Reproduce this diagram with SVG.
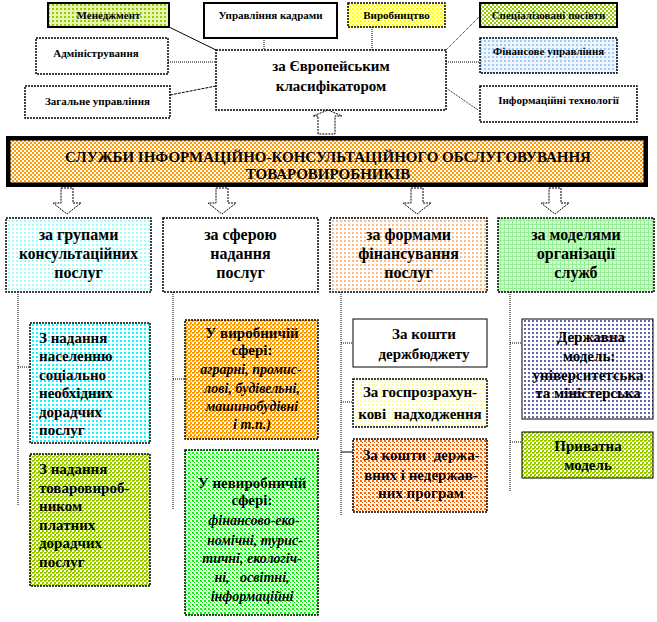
<svg xmlns="http://www.w3.org/2000/svg" width="657" height="622" viewBox="0 0 657 622">
<defs>
<pattern id="pMen" width="4" height="4" patternUnits="userSpaceOnUse"><rect width="4" height="4" fill="#e6f5b0"/><rect width="2" height="2" fill="#99cc00"/></pattern>
<pattern id="pYel" width="4" height="4" patternUnits="userSpaceOnUse"><rect width="4" height="4" fill="#ffffcc"/><rect width="2" height="2" fill="#ffff00"/><rect x="2" y="2" width="1" height="1" fill="#ffff00"/></pattern>
<pattern id="pSpec" width="4" height="4" patternUnits="userSpaceOnUse"><rect width="4" height="4" fill="#fff"/><rect width="2" height="2" fill="#99cc00"/><rect x="2" y="2" width="2" height="2" fill="#99cc00"/></pattern>
<pattern id="pBlue" width="4" height="4" patternUnits="userSpaceOnUse"><rect width="4" height="4" fill="#f0f6ff"/><rect width="2" height="2" fill="#99ccff"/></pattern>
<pattern id="pBanner" width="4" height="4" patternUnits="userSpaceOnUse"><rect width="4" height="4" fill="#fff"/><rect width="2" height="2" fill="#ff9900"/><rect x="2" y="2" width="2" height="2" fill="#ff9900"/></pattern>
<pattern id="pCyanL" width="4" height="4" patternUnits="userSpaceOnUse"><rect width="4" height="4" fill="#fff"/><rect width="2" height="2" fill="#99ffff"/></pattern>
<pattern id="pPeach" width="4" height="4" patternUnits="userSpaceOnUse"><rect width="4" height="4" fill="#fff"/><rect width="2" height="2" fill="#ffbb80"/></pattern>
<pattern id="pMint" width="4" height="4" patternUnits="userSpaceOnUse"><rect width="4" height="4" fill="#ccffcc"/><rect width="1" height="4" fill="#99ee99"/><rect width="4" height="1" fill="#99ee99"/></pattern>
<pattern id="pCyan" width="4" height="4" patternUnits="userSpaceOnUse"><rect width="4" height="4" fill="#fff"/><rect width="2" height="2" fill="#00ffff"/></pattern>
<pattern id="pYG" width="4" height="4" patternUnits="userSpaceOnUse"><rect width="4" height="4" fill="#fff"/><rect width="2" height="2" fill="#99cc00"/><rect x="2" y="2" width="2" height="2" fill="#99cc00"/><rect x="2" y="0" width="1" height="1" fill="#99cc00"/></pattern>
<pattern id="pOrange" width="4" height="4" patternUnits="userSpaceOnUse"><rect width="4" height="4" fill="#fff"/><rect width="2" height="2" fill="#ff9900"/><rect x="2" y="2" width="2" height="2" fill="#ff9900"/><rect x="2" y="0" width="1" height="1" fill="#ff9900"/></pattern>
<pattern id="pGreen" width="4" height="4" patternUnits="userSpaceOnUse"><rect width="4" height="4" fill="#fff"/><rect width="2" height="2" fill="#00ff00"/><rect x="2" y="2" width="1" height="1" fill="#00ff00"/></pattern>
<pattern id="pLYel" width="4" height="4" patternUnits="userSpaceOnUse"><rect width="4" height="4" fill="#fff"/><rect width="2" height="2" fill="#ffff99"/></pattern>
<pattern id="pRed" width="4" height="4" patternUnits="userSpaceOnUse"><rect width="4" height="4" fill="#fff"/><rect width="2" height="2" fill="#ff6600"/><rect x="2" y="2" width="1" height="1" fill="#ff6600"/></pattern>
<pattern id="pNavy" width="4" height="4" patternUnits="userSpaceOnUse"><rect width="4" height="4" fill="#fff"/><rect width="2" height="2" fill="#6666aa"/></pattern>
</defs>
<style>
text{font-family:"Liberation Serif","DejaVu Serif","Times New Roman",serif;font-weight:bold;fill:#000}
.s{font-size:11px}
.c{font-size:15px}
.b{font-size:15px}
.h{font-size:16px}
.t{font-size:15px}
.i{font-style:italic;font-size:14px}
.dot{stroke:#000;stroke-width:1.5;stroke-dasharray:2 1}
.sol{stroke:#000;stroke-width:2}
.thin{stroke:#000;stroke-width:1}
.ln{stroke:#000;stroke-width:1;fill:none}
.dl{stroke:#000;stroke-width:1;stroke-dasharray:1 1;fill:none}
.arr{fill:#fff;stroke:#000;stroke-width:1;stroke-dasharray:2 1}
</style>
<rect width="657" height="622" fill="#fff"/>

<g id="connectors">
<line class="ln" x1="169" y1="27" x2="216" y2="50"/>
<line class="dl" x1="264" y1="38" x2="264" y2="50" stroke-width="2"/>
<line class="dl" x1="372" y1="27" x2="372" y2="50" stroke-width="2"/>
<line class="dl" x1="168" y1="62" x2="216" y2="62"/>
<line class="ln" x1="170" y1="95" x2="216" y2="86" stroke-dasharray="3 1"/>
<line class="dl" x1="446" y1="50" x2="480" y2="16"/>
<line class="dl" x1="446" y1="62" x2="480" y2="62"/>
<line class="dl" x1="446" y1="88" x2="478" y2="110"/>
<polygon class="arr" points="318,134 318,116 313,116 328,110 342,116 335,116 335,134"/>
<polygon class="arr" points="61,188 73,188 73,203 81,203 67,214 53,203 61,203"/>
<polygon class="arr" points="216,188 228,188 228,203 236,203 222,214 208,203 216,203"/>
<polygon class="arr" points="411,188 423,188 423,203 431,203 417,214 403,203 411,203"/>
<polygon class="arr" points="549,188 561,188 561,203 569,203 555,214 541,203 549,203"/>
<line class="dl" x1="18" y1="292" x2="18" y2="505"/>
<line class="dl" x1="18" y1="367" x2="30" y2="367"/>
<line class="dl" x1="173" y1="292" x2="173" y2="510"/>
<line class="dl" x1="173" y1="379" x2="185" y2="379"/>
<line class="dl" x1="341" y1="292" x2="341" y2="515"/>
<line class="dl" x1="341" y1="343" x2="353" y2="343"/>
<line class="dl" x1="341" y1="402" x2="353" y2="402"/>
<line class="ln" x1="341" y1="452" x2="353" y2="452"/>
<line class="dl" x1="510" y1="292" x2="510" y2="492"/>
<line class="dl" x1="510" y1="343" x2="522" y2="343"/>
<line class="dl" x1="510" y1="442" x2="522" y2="442" stroke-width="2"/>
</g>

<g id="n-menedzhment"><rect class="sol" x="48" y="3" width="121" height="24" fill="url(#pMen)"/><text class="s" x="108.5" y="19" text-anchor="middle">Менеджмент</text></g>
<g id="n-kadry"><rect class="sol" x="204" y="3" width="133" height="35" fill="#fff"/><text class="s" x="270.5" y="19" text-anchor="middle">Управління кадрами</text></g>
<g id="n-vyrobnytstvo"><rect class="dot" x="348" y="3" width="97" height="24" fill="url(#pYel)"/><text class="s" x="396.5" y="19" text-anchor="middle">Виробництво</text></g>
<g id="n-posivy"><rect class="sol" x="480" y="3" width="137" height="24" fill="url(#pSpec)"/><text class="s" x="548.5" y="19" text-anchor="middle">Спеціалізовані  посівти</text></g>
<g id="n-finansy"><rect class="dot" x="480" y="38" width="137" height="35" fill="url(#pBlue)"/><text class="s" x="548.5" y="55" text-anchor="middle">Фінансове управління</text></g>
<g id="n-it"><rect class="dot" x="480" y="86" width="157" height="36" fill="#fff"/><text class="s" x="558.5" y="104" text-anchor="middle">Інформаційні технології</text></g>
<g id="n-admin"><rect class="dot" x="36" y="38" width="132" height="36" fill="#fff"/><text class="s" x="96" y="57" text-anchor="middle">Адміністрування</text></g>
<g id="n-zahalne"><rect class="dot" x="25" y="86" width="145" height="32" fill="#fff"/><text class="s" x="97.5" y="105" text-anchor="middle">Загальне управління</text></g>
<g id="n-klasyfikator"><rect class="dot" x="216" y="50" width="230" height="60" fill="#fff" stroke-width="2"/><text class="c" x="331" y="71" text-anchor="middle">за Європейським</text><text class="c" x="331" y="91" text-anchor="middle">класифікатором</text></g>

<g id="n-banner"><rect x="6" y="136" width="642" height="51" fill="#000"/><rect x="10" y="140" width="634" height="43" fill="url(#pBanner)" stroke="#000" stroke-width="1"/><text class="b" x="328" y="162" text-anchor="middle">СЛУЖБИ ІНФОРМАЦІЙНО-КОНСУЛЬТАЦІЙНОГО  ОБСЛУГОВУВАННЯ</text><text class="b" x="328" y="179" text-anchor="middle">ТОВАРОВИРОБНИКІВ</text></g>

<g id="n-h1"><rect class="dot" x="6" y="218" width="145" height="74" fill="url(#pCyanL)"/><text class="h" x="78.5" y="240" text-anchor="middle">за групами</text><text class="h" x="78.5" y="259" text-anchor="middle" textLength="119" lengthAdjust="spacingAndGlyphs">консультаційних</text><text class="h" x="78.5" y="278" text-anchor="middle">послуг</text></g>
<g id="n-h2"><rect class="dot" x="163" y="218" width="155" height="74" fill="#fff"/><text class="h" x="240.5" y="240" text-anchor="middle">за сферою</text><text class="h" x="240.5" y="259" text-anchor="middle">надання</text><text class="h" x="240.5" y="278" text-anchor="middle">послуг</text></g>
<g id="n-h3"><rect class="dot" x="330" y="218" width="157" height="74" fill="url(#pPeach)"/><text class="h" x="408.5" y="240" text-anchor="middle">за формами</text><text class="h" x="408.5" y="259" text-anchor="middle">фінансування</text><text class="h" x="408.5" y="278" text-anchor="middle">послуг</text></g>
<g id="n-h4"><rect class="dot" x="498" y="218" width="156" height="74" fill="url(#pMint)"/><text class="h" x="576" y="240" text-anchor="middle">за моделями</text><text class="h" x="576" y="259" text-anchor="middle">організації</text><text class="h" x="576" y="278" text-anchor="middle">служб</text></g>

<g id="n-c1a"><rect class="dot" x="30" y="323" width="120" height="120" fill="url(#pCyan)"/><text class="t" x="39" y="343">З надання</text><text class="t" x="39" y="361">населенню</text><text class="t" x="39" y="380">соціально</text><text class="t" x="39" y="398">необхідних</text><text class="t" x="39" y="417">дорадчих</text><text class="t" x="39" y="435">послуг</text></g>
<g id="n-c1b"><rect class="dot" x="30" y="454" width="120" height="132" fill="url(#pYG)"/><text class="t" x="39" y="474">З надання</text><text class="t" x="39" y="493">товаровироб-</text><text class="t" x="39" y="511">ником</text><text class="t" x="39" y="530">платних</text><text class="t" x="39" y="548">дорадчих</text><text class="t" x="39" y="567">послуг</text></g>

<g id="n-c2a"><rect class="dot" x="185" y="320" width="133" height="119" fill="url(#pOrange)"/><text class="t" x="252" y="338" text-anchor="middle">У виробничій</text><text class="t" x="252" y="355" text-anchor="middle">сфері:</text><text class="t i" x="251" y="374" text-anchor="middle">аграрні, промис-</text><text class="t i" x="252" y="393" text-anchor="middle">лові, будівельні,</text><text class="t i" x="252" y="411" text-anchor="middle">машинобудівні</text><text class="t i" x="252" y="429" text-anchor="middle">і т.п.)</text></g>
<g id="n-c2b"><rect class="dot" x="185" y="450" width="133" height="165" fill="url(#pGreen)"/><text class="t" x="252" y="488" text-anchor="middle">У невиробничій</text><text class="t" x="252" y="505" text-anchor="middle">сфері:</text><text class="t i" x="254" y="525" text-anchor="middle">фінансово-еко-</text><text class="t i" x="255" y="545" text-anchor="middle">номічні, турис-</text><text class="t i" x="252" y="563" text-anchor="middle">тичні, екологіч-</text><text class="t i" x="252" y="582" text-anchor="middle" xml:space="preserve">ні,   освітні,</text><text class="t i" x="252" y="601" text-anchor="middle">інформаційні</text></g>

<g id="n-c3a"><rect class="thin" x="353" y="319" width="134" height="48" fill="#fff"/><text class="t" x="424" y="339" text-anchor="middle">За кошти</text><text class="t" x="424" y="359" text-anchor="middle">держбюджету</text></g>
<g id="n-c3b"><rect class="dot" x="353" y="379" width="134" height="48" fill="url(#pLYel)" stroke-width="1"/><text class="t" x="420" y="397" text-anchor="middle">За госпрозрахун-</text><text class="t" x="420" y="419" text-anchor="middle" xml:space="preserve">кові  надходження</text></g>
<g id="n-c3c"><rect class="dot" x="353" y="439" width="134" height="73" fill="url(#pRed)" stroke-width="1"/><text class="t" x="421" y="460" text-anchor="middle" xml:space="preserve">За кошти  держа-</text><text class="t" x="421" y="480" text-anchor="middle">вних і недержав-</text><text class="t" x="421" y="498" text-anchor="middle">них програм</text></g>

<g id="n-c4a"><rect class="thin" x="522" y="319" width="131" height="100" fill="url(#pNavy)"/><text class="t" x="591" y="342" text-anchor="middle" font-size="16">Державна</text><text class="t" x="589" y="361" text-anchor="middle">модель:</text><text class="t" x="588" y="380" text-anchor="middle">університетська</text><text class="t" x="588" y="398" text-anchor="middle">та міністерська</text></g>
<g id="n-c4b"><rect class="thin" x="522" y="432" width="131" height="46" fill="url(#pYG)"/><text class="t" x="588" y="451" text-anchor="middle" font-size="16">Приватна</text><text class="t" x="588" y="470" text-anchor="middle">модель</text></g>
</svg>
